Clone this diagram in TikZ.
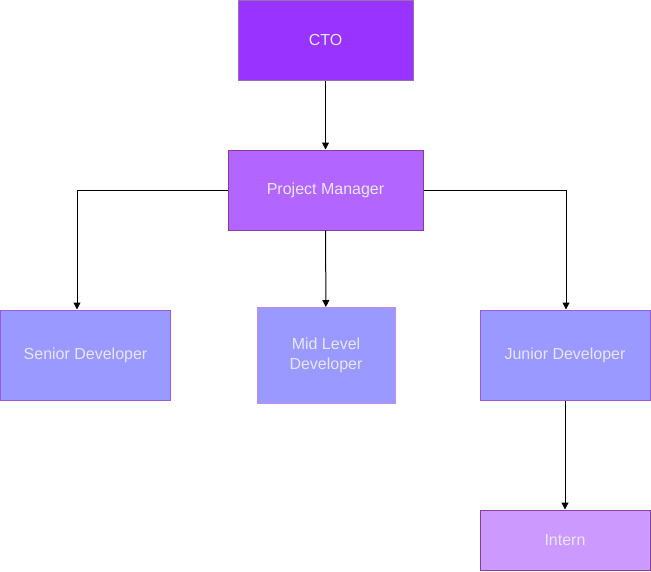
\documentclass[tikz,border=0pt]{standalone}
\usepackage{fontspec}
\setmainfont{Liberation Sans}
\usetikzlibrary{arrows.meta}
\definecolor{ctofill}{HTML}{9933FF}
\definecolor{pmfill}{HTML}{B266FF}
\definecolor{devfill}{HTML}{9999FF}
\definecolor{internfill}{HTML}{CC99FF}
\definecolor{boxtext}{HTML}{E6E6FA}
\definecolor{ctoline}{HTML}{9673A6}
\definecolor{pmline}{HTML}{8A3A9A}
\definecolor{devline}{HTML}{A05AD0}
\definecolor{midline}{HTML}{C08AE6}
\definecolor{internline}{HTML}{8B3D9E}
\tikzset{
	role/.style={draw, line width=1pt, inner sep=0pt, align=center, text=boxtext,
		font=\fontsize{16}{20}\selectfont},
	link/.style={draw=black, line width=1pt, -{Triangle[length=7pt,width=7pt]}}
}

\begin{document}
\begin{tikzpicture}[x=1pt, y=-1pt]
	\useasboundingbox (0,0) rectangle (651,571);
	\node[role, fill=ctofill, draw=ctoline, minimum width=175pt, minimum height=80pt] (cto) at (325.5,40) {CTO};
	\node[role, fill=pmfill, draw=pmline, minimum width=195pt, minimum height=80pt] (pm) at (325.5,190) {Project Manager};
	\node[role, fill=devfill, draw=devline, minimum width=170pt, minimum height=90pt] (senior) at (85.5,355) {Senior Developer};
	\node[role, fill=devfill, draw=midline, minimum width=138pt, minimum height=96pt] (mid) at (326,355.5) {Mid Level\\Developer};
	\node[role, fill=devfill, draw=devline, minimum width=170pt, minimum height=90pt] (junior) at (565,355) {Junior Developer};
	\node[role, fill=internfill, draw=internline, minimum width=170pt, minimum height=60pt] (intern) at (565,540) {Intern};
	% connectors
	\draw[link] (cto) -- (pm);
	\draw[link] (pm.west) -| ([xshift=-8.5pt]senior.north);
	\draw[link] (pm) -- (mid);
	\draw[link] (pm.east) -| ([xshift=1pt]junior.north);
	\draw[link] (junior) -- (intern);
\end{tikzpicture}
\end{document}
